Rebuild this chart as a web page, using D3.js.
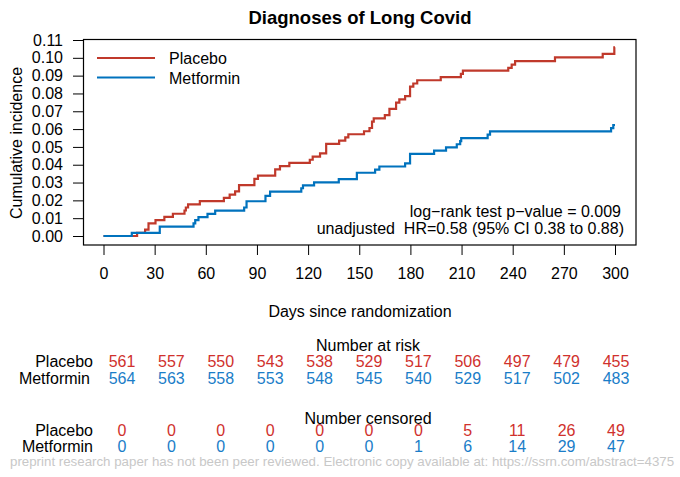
<!DOCTYPE html>
<html><head><meta charset="utf-8">
<script src="https://cdn.jsdelivr.net/npm/d3@7"></script>
<style>
body{margin:0;background:#fff;}
text{font-family:Arial,"Liberation Sans",sans-serif;}
</style></head>
<body>
<svg id="c" width="680" height="477"></svg>
<script>
// ---- data ----
const groups = ["Placebo", "Metformin"];
const colors = ["#C0392B", "#0072BD"];
const tableColors = ["#D0312D", "#1A7DC8"];
const xTicks = [0, 30, 60, 90, 120, 150, 180, 210, 240, 270, 300];
const yTicks = [0, 0.01, 0.02, 0.03, 0.04, 0.05, 0.06, 0.07, 0.08, 0.09, 0.10, 0.11];

const placeboDays = [0, 19.7, 24.4, 26.4, 30.5, 35.7, 40.7, 47.5, 48.3, 49.6, 56.5, 70.6, 74, 77.2, 79.5, 88.5, 90.6, 100.7, 103.5, 109, 121, 122.7, 127, 130.6, 138.2, 141.8, 143.6, 152.8, 156, 157.5, 158.5, 165, 167.7, 171.6, 173.5, 176.9, 179.8, 181.7, 184, 197.8, 209.6, 210.8, 237.4, 239.4, 241.4, 264.8, 292.8, 299.6, 300];
const placeboCum  = [0, 0.0018, 0.0036, 0.0071, 0.0089, 0.0107, 0.0125, 0.0143, 0.0160, 0.0178, 0.0196, 0.0214, 0.0232, 0.0250, 0.0285, 0.0321, 0.0339, 0.0374, 0.0392, 0.0410, 0.0428, 0.0446, 0.0464, 0.0517, 0.0535, 0.0553, 0.0571, 0.0588, 0.0606, 0.0642, 0.0660, 0.0678, 0.0713, 0.0749, 0.0767, 0.0785, 0.0838, 0.0856, 0.0874, 0.0892, 0.0910, 0.0928, 0.0944, 0.0962, 0.0982, 0.1003, 0.1022, 0.1059, 0.1059];

const metforminDays = [0, 16.6, 33, 52.8, 53.8, 55.7, 61, 65.5, 82.5, 83.9, 95, 97.7, 116, 117, 123.5, 138, 148.6, 159.3, 161.8, 176.9, 179.8, 193.9, 200.9, 207.2, 209.2, 209.8, 225.3, 226.7, 297.7, 299, 300];
const metforminCum  = [0, 0.0018, 0.0053, 0.0071, 0.0089, 0.0106, 0.0124, 0.0142, 0.0160, 0.0195, 0.0225, 0.0249, 0.0268, 0.0284, 0.0301, 0.0319, 0.0355, 0.0372, 0.0390, 0.0408, 0.0461, 0.0479, 0.0497, 0.0515, 0.0533, 0.0549, 0.0569, 0.0587, 0.0605, 0.0623, 0.0623];

const atRiskPlacebo   = [561, 557, 550, 543, 538, 529, 517, 506, 497, 479, 455];
const atRiskMetformin = [564, 563, 558, 553, 548, 545, 540, 529, 517, 502, 483];
const censPlacebo     = [0, 0, 0, 0, 0, 0, 0, 5, 11, 26, 49];
const censMetformin   = [0, 0, 0, 0, 0, 0, 1, 6, 14, 29, 47];

const title = "Diagnoses of Long Covid";
const xLabel = "Days since randomization";
const yLabel = "Cumulative incidence";
const stat1 = "log\u2212rank test p\u2212value = 0.009";
const stat2 = "unadjusted  HR=0.58 (95% CI 0.38 to 0.88)";
const watermark = "preprint research paper has not been peer reviewed. Electronic copy available at: https://ssrn.com/abstract=4375";

// ---- layout ----
const svg = d3.select("#c");
const box = {l: 83.5, r: 636, t: 39.5, b: 245};
const x = d3.scaleLinear().domain([0, 300]).range([103.5, 615]);
const y = d3.scaleLinear().domain([0, 0.11]).range([236, 40]);
const fs = 16;
const ff = "Arial, 'Liberation Sans', sans-serif";

svg.append("text").attr("x", 360).attr("y", 24).attr("text-anchor", "middle")
  .attr("font-weight", "bold").attr("font-size", 18.5).text(title);

svg.append("rect").attr("x", box.l).attr("y", box.t).attr("width", box.r - box.l).attr("height", box.b - box.t)
  .attr("fill", "none").attr("stroke", "#000").attr("stroke-width", 1.2);

// y axis
const yAxis = d3.axisLeft(y).tickValues(yTicks).tickFormat(d3.format(".2f")).tickSize(10).tickPadding(10);
const ga = svg.append("g").attr("transform", `translate(${box.l - 0.5},0)`).call(yAxis);
ga.select(".domain").remove();
ga.selectAll("text").attr("font-size", fs).attr("font-family", ff).attr("fill", "#000");

// x axis
const xAxis = d3.axisBottom(x).tickValues(xTicks).tickFormat(d3.format("d")).tickSize(10).tickPadding(13);
const gx = svg.append("g").attr("transform", `translate(0,${box.b})`).call(xAxis);
gx.select(".domain").remove();
gx.selectAll("text").attr("font-size", fs).attr("font-family", ff).attr("fill", "#000");

svg.append("text").attr("x", 360).attr("y", 317).attr("text-anchor", "middle").attr("font-size", fs).text(xLabel);
svg.append("text").attr("transform", "translate(22,143) rotate(-90)").attr("text-anchor", "middle").attr("font-size", fs).text(yLabel);

// curves
const line = d3.line().x(d => x(d[0])).y(d => y(d[1])).curve(d3.curveStepAfter);
const series = [d3.zip(placeboDays, placeboCum), d3.zip(metforminDays, metforminCum)];
series.forEach((s, i) => {
  svg.append("path").datum(s).attr("d", line).attr("fill", "none")
    .attr("stroke", colors[i]).attr("stroke-width", 2.2);
});

// legend
groups.forEach((g, i) => {
  const ly = 58 + i * 19.5;
  svg.append("line").attr("x1", 97).attr("x2", 155).attr("y1", ly).attr("y2", ly)
    .attr("stroke", colors[i]).attr("stroke-width", 2.2);
  svg.append("text").attr("x", 169).attr("y", ly + 6).attr("font-size", fs).text(g);
});

// stats
svg.append("text").attr("x", 621).attr("y", 217).attr("text-anchor", "end").attr("font-size", fs).text(stat1);
svg.append("text").attr("x", 624).attr("y", 234).attr("text-anchor", "end").attr("font-size", fs)
  .style("white-space", "pre").text(stat2);

// risk table
const xt = d3.scaleLinear().domain([0, 300]).range([122, 616]);
function row(vals, yy, col) {
  svg.append("g").selectAll("text").data(d3.zip(xTicks, vals)).join("text")
    .attr("x", d => xt(d[0])).attr("y", yy).attr("text-anchor", "middle")
    .attr("font-size", fs).attr("fill", col).text(d => d[1]);
}
svg.append("text").attr("x", 368).attr("y", 351).attr("text-anchor", "middle").attr("font-size", fs).text("Number at risk");
svg.append("text").attr("x", 93).attr("y", 367).attr("text-anchor", "end").attr("font-size", fs).text(groups[0]);
svg.append("text").attr("x", 90).attr("y", 384).attr("text-anchor", "end").attr("font-size", fs).text(groups[1]);
row(atRiskPlacebo, 367, tableColors[0]);
row(atRiskMetformin, 384, tableColors[1]);

svg.append("text").attr("x", 368).attr("y", 424).attr("text-anchor", "middle").attr("font-size", fs).text("Number censored");
svg.append("text").attr("x", 93).attr("y", 436).attr("text-anchor", "end").attr("font-size", fs).text(groups[0]);
svg.append("text").attr("x", 93).attr("y", 452).attr("text-anchor", "end").attr("font-size", fs).text(groups[1]);
row(censPlacebo, 436, tableColors[0]);
row(censMetformin, 452, tableColors[1]);

svg.append("text").attr("x", 10).attr("y", 466).attr("font-size", 13.3).attr("fill", "#c8c8c8").text(watermark);
</script>
</body></html>
